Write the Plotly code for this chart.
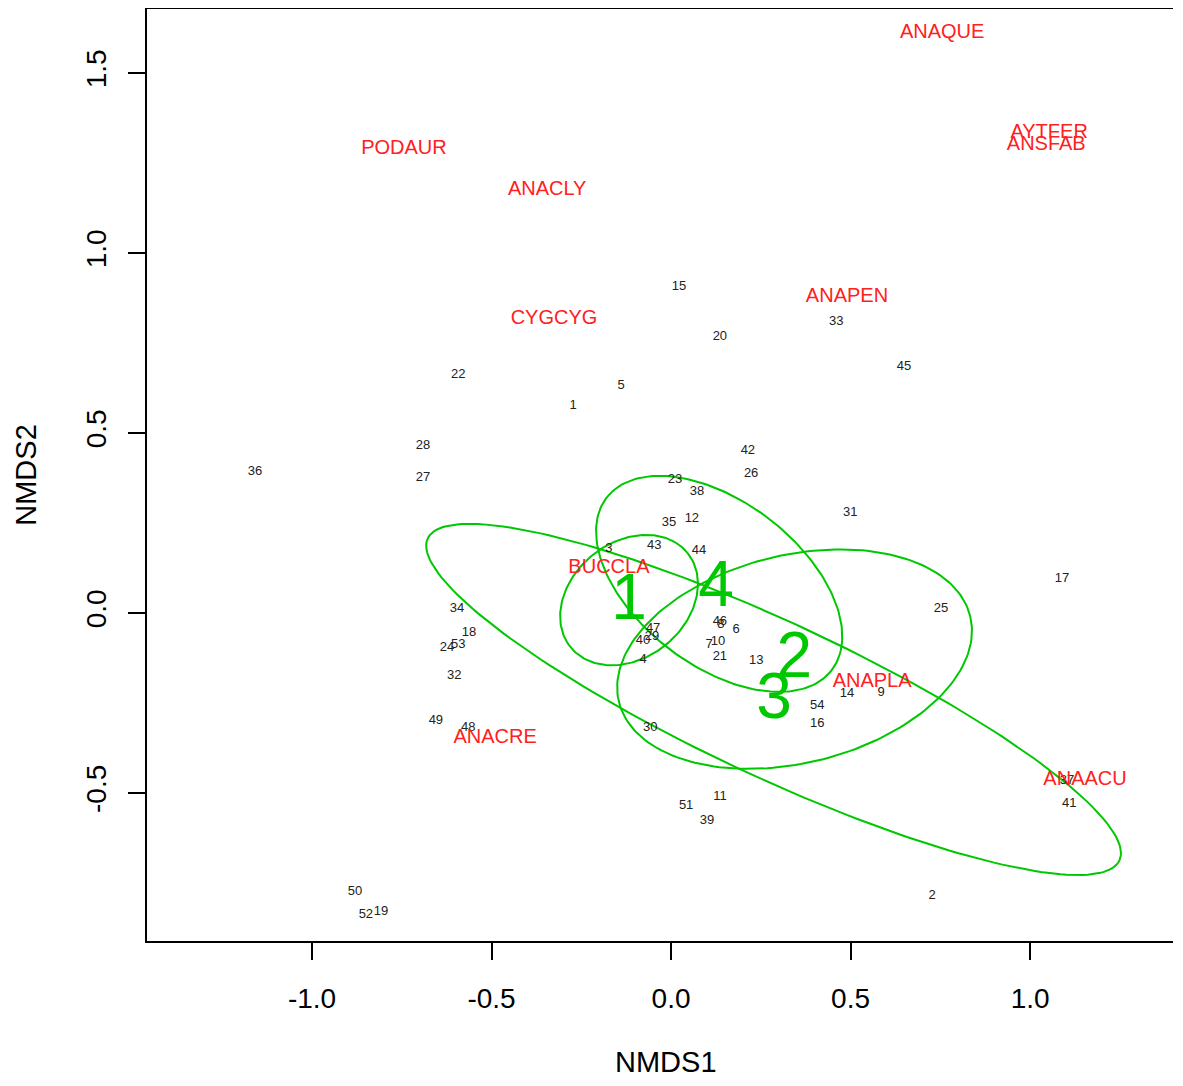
import numpy as np
import plotly.graph_objects as go

# Site scores (labels 1..54)
site_labels = [str(i) for i in range(1, 55)]
site_x = [-0.273, 0.727, -0.173, -0.078, -0.139, 0.181, 0.106, 0.139, 0.585, 0.131,
          0.136, 0.058, 0.237, 0.490, 0.022, 0.407, 1.089, -0.563, -0.808, 0.136,
          0.136, -0.593, 0.011, -0.624, 0.752, 0.223, -0.691, -0.691, -0.053, -0.058,
          0.499, -0.604, 0.460, -0.596, -0.006, -1.159, 1.103, 0.072, 0.100, -0.078,
          1.109, 0.214, -0.047, 0.078, 0.649, 0.136, -0.050, -0.565, -0.655, -0.880,
          0.042, -0.850, -0.593, 0.407]
site_y = [0.575, -0.786, 0.178, -0.131, 0.631, -0.047, -0.089, -0.033, -0.222, -0.081,
          -0.511, 0.261, -0.133, -0.225, 0.906, -0.308, 0.094, -0.056, -0.831, 0.767,
          -0.122, 0.661, 0.369, -0.097, 0.011, 0.386, 0.375, 0.464, -0.067, -0.319,
          0.278, -0.175, 0.808, 0.011, 0.250, 0.392, -0.467, 0.336, -0.578, -0.078,
          -0.531, 0.450, 0.186, 0.172, 0.683, -0.025, -0.044, -0.319, -0.300, -0.775,
          -0.536, -0.839, -0.089, -0.258]

# Species scores
species_labels = ["ANAQUE", "AYTFER", "ANSFAB", "PODAUR", "ANACLY", "CYGCYG",
                  "ANAPEN", "BUCCLA", "ANAPLA", "ANACRE", "ANAACU"]
species_x = [0.755, 1.053, 1.045, -0.744, -0.345, -0.326, 0.490, -0.173, 0.560, -0.490, 1.153]
species_y = [1.611, 1.333, 1.300, 1.289, 1.175, 0.817, 0.878, 0.125, -0.192, -0.347, -0.464]

# Group ellipses (centre, semi-axes, rotation in degrees) and centroid labels
group_labels = ["1", "2", "3", "4"]
ell_cx = [-0.117, 0.344, 0.2855, 0.134]
ell_cy = [0.036, -0.128, -0.240, 0.081]
ell_a = [0.209, 0.5035, 1.062, 0.3945]
ell_b = [0.161, 0.289, 0.215, 0.228]
ell_ang = [38.4, 13.6, -24.9, -37.3]
cent_x = [-0.117, 0.343, 0.287, 0.125]
cent_y = [0.028, -0.133, -0.247, 0.064]

x_ticks = [-1.0, -0.5, 0.0, 0.5, 1.0]
y_ticks = [-0.5, 0.0, 0.5, 1.0, 1.5]

GREEN = "#00C800"
FONT = "Liberation Sans, Arial, sans-serif"

fig = go.Figure()

t = np.linspace(0, 2 * np.pi, 200)
for cx, cy, a, b, ang in zip(ell_cx, ell_cy, ell_a, ell_b, ell_ang):
    th = np.deg2rad(ang)
    ex = cx + a * np.cos(t) * np.cos(th) - b * np.sin(t) * np.sin(th)
    ey = cy + a * np.cos(t) * np.sin(th) + b * np.sin(t) * np.cos(th)
    fig.add_trace(go.Scatter(x=ex, y=ey, mode="lines",
                             line=dict(color=GREEN, width=2), hoverinfo="skip",
                             showlegend=False))

fig.add_trace(go.Scatter(x=site_x, y=site_y, mode="text", text=site_labels,
                         textposition="middle center",
                         textfont=dict(family=FONT, size=13, color="#222222"),
                         showlegend=False))

fig.add_trace(go.Scatter(x=species_x, y=species_y, mode="text", text=species_labels,
                         textposition="middle center",
                         textfont=dict(family=FONT, size=20, color="#FF2020"),
                         showlegend=False))

fig.add_trace(go.Scatter(x=cent_x, y=cent_y, mode="text", text=group_labels,
                         textposition="middle center",
                         textfont=dict(family=FONT, size=64, color=GREEN),
                         showlegend=False))

axis_common = dict(showgrid=False, zeroline=False, showline=True, linecolor="black",
                   linewidth=2, ticks="outside", ticklen=17, tickwidth=2,
                   tickcolor="black", automargin=False,
                   tickfont=dict(family=FONT, size=28, color="black"))

fig.update_xaxes(range=[-1.4596, 1.398], tickvals=x_ticks,
                 ticktext=[f"{v:.1f}" for v in x_ticks], mirror=True,
                 ticklabelstandoff=14, **axis_common)
fig.update_yaxes(range=[-0.911, 1.678], tickvals=y_ticks,
                 ticktext=[f"{v:.1f}" for v in y_ticks], mirror=False,
                 tickangle=-90, ticklabelstandoff=11,
                 title=dict(text="NMDS2", font=dict(family=FONT, size=29, color="black"),
                            standoff=36),
                 **axis_common)

fig.add_annotation(text="NMDS1", xref="paper", yref="paper", x=0.506, y=0,
                   xanchor="center", yanchor="middle", yshift=-121, showarrow=False,
                   font=dict(family=FONT, size=29, color="black"))

fig.update_layout(width=1165, height=1069,
                  margin=dict(l=139, r=0, t=1, b=136),
                  plot_bgcolor="white", paper_bgcolor="white")

fig.write_html("out.html")
